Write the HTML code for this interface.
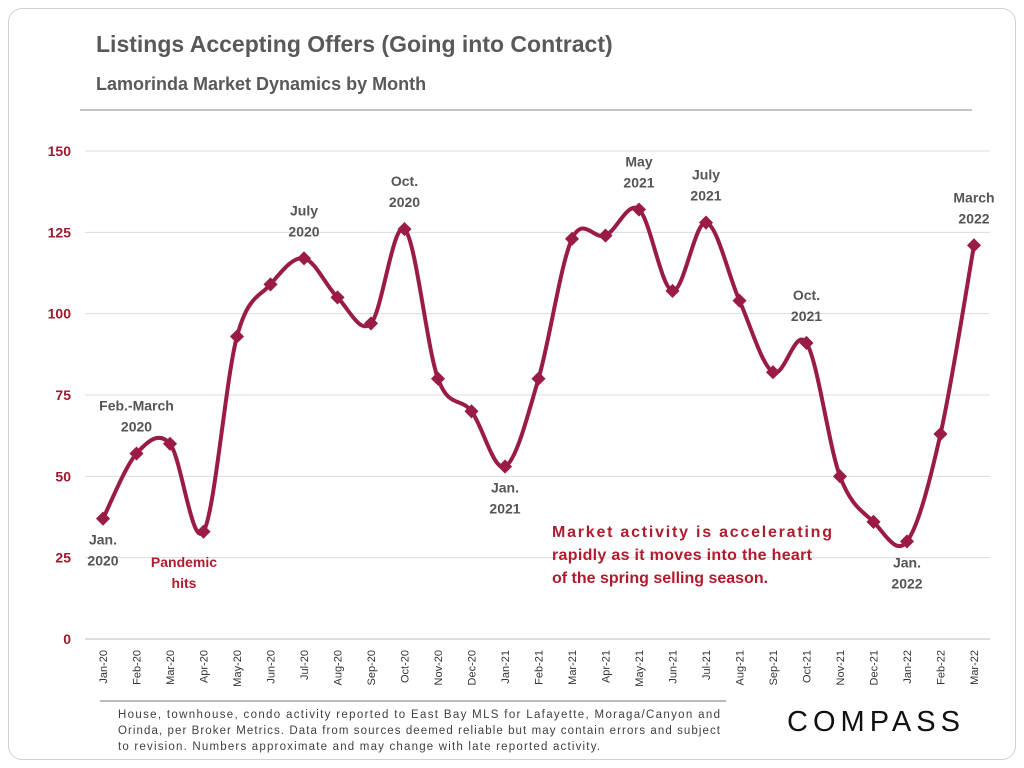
<!DOCTYPE html>
<html><head><meta charset="utf-8">
<style>
html,body{margin:0;padding:0;background:#fff;}
body{width:1024px;height:768px;overflow:hidden;font-family:"Liberation Sans",sans-serif;}
#card{position:absolute;left:8px;top:8px;width:1006px;height:750px;border:1px solid #d0d0d0;border-radius:14px;}
</style></head>
<body>
<div id="card"></div>
<svg id="chart" width="1024" height="768" style="position:absolute;left:0;top:0">
<text x="96" y="52" font-size="23" font-weight="bold" fill="#595959">Listings Accepting Offers (Going into Contract)</text>
<text x="96" y="90" font-size="18" font-weight="bold" fill="#595959">Lamorinda Market Dynamics by Month</text>
<line x1="80" y1="110" x2="972" y2="110" stroke="#888" stroke-width="1"/>
<g id="grid"></g><g id="yt"></g><g id="xt"></g>
<path id="line" fill="none" stroke="#9b1b47" stroke-width="4"/>
<g id="pts"></g><g id="ann"></g>
<text font-size="16" font-weight="bold" fill="#b01c2e">
<tspan x="552" y="537" textLength="280" lengthAdjust="spacing">Market activity is accelerating</tspan>
<tspan x="552" y="560" textLength="260" lengthAdjust="spacing">rapidly as it moves into the heart</tspan>
<tspan x="552" y="583">of the spring selling season.</tspan></text>
<text font-size="14" font-weight="bold" fill="#b01c2e" text-anchor="middle"><tspan x="184" y="567">Pandemic</tspan><tspan x="184" y="588">hits</tspan></text>
<line x1="100" y1="701" x2="726" y2="701" stroke="#777" stroke-width="1"/>
<text font-size="11.5" fill="#404040">
<tspan x="118" y="718" textLength="602" lengthAdjust="spacing">House, townhouse, condo activity reported to East Bay MLS for Lafayette, Moraga/Canyon and</tspan>
<tspan x="118" y="734" textLength="602" lengthAdjust="spacing">Orinda, per Broker Metrics. Data from sources deemed reliable but may contain errors and subject</tspan>
<tspan x="118" y="750" textLength="482" lengthAdjust="spacing">to revision. Numbers approximate and may change with late reported activity.</tspan></text>
<text x="876" y="731" font-size="29" fill="#111" text-anchor="middle" letter-spacing="5">COMPASS</text>
</svg>
<script>
const months=["Jan-20","Feb-20","Mar-20","Apr-20","May-20","Jun-20","Jul-20","Aug-20","Sep-20","Oct-20","Nov-20","Dec-20","Jan-21","Feb-21","Mar-21","Apr-21","May-21","Jun-21","Jul-21","Aug-21","Sep-21","Oct-21","Nov-21","Dec-21","Jan-22","Feb-22","Mar-22"];
const listings=[37,57,60,33,93,109,117,105,97,126,80,70,53,80,123,124,132,107,128,104,82,91,50,36,30,63,121];
const yTicks=[0,25,50,75,100,125,150];
const annotations=[[0,["Jan.","2020"],"below"],[1,["Feb.-March","2020"],"above"],[6,["July","2020"],"above"],[9,["Oct.","2020"],"above"],[12,["Jan.","2021"],"below"],[16,["May","2021"],"above"],[18,["July","2021"],"above"],[21,["Oct.","2021"],"above"],[24,["Jan.","2022"],"below"],[26,["March","2022"],"above"]];
const NS="http://www.w3.org/2000/svg";
const X=i=>103+i*(974-103)/(months.length-1);
const Y=v=>639-v*(639-151)/150;
function mk(t,a,p){const e=document.createElementNS(NS,t);for(const k in a)e.setAttribute(k,a[k]);p.appendChild(e);return e;}
const grid=document.getElementById('grid'),yt=document.getElementById('yt'),xt=document.getElementById('xt');
yTicks.forEach(v=>{
 const l=mk('line',{x1:85,x2:990,y1:Y(v),y2:Y(v),stroke:v===0?'#bbb':'#dcdcdc','stroke-width':1},grid);
 
 
 const t=mk('text',{x:71,y:Y(v)+5,'text-anchor':'end','font-size':14,'font-weight':'bold',fill:'#9b1b2e'},yt);t.textContent=v;
 
 
});
months.forEach((m,i)=>{
 const t=mk('text',{transform:`translate(${X(i)+4},650) rotate(-90)`,'text-anchor':'end','font-size':11,fill:'#333'},xt);t.textContent=m;
 
 
});
const P=listings.map((v,i)=>[X(i),Y(v)]);
let d=`M${P[0][0]},${P[0][1]}`;
for(let i=0;i<P.length-1;i++){const p0=P[Math.max(0,i-1)],p1=P[i],p2=P[i+1],p3=P[Math.min(P.length-1,i+2)];
 d+=` C${p1[0]+(p2[0]-p0[0])/6},${p1[1]+(p2[1]-p0[1])/6} ${p2[0]-(p3[0]-p1[0])/6},${p2[1]-(p3[1]-p1[1])/6} ${p2[0]},${p2[1]}`;}
document.getElementById('line').setAttribute('d',d);
const pts=document.getElementById('pts');
P.forEach(([x,y])=>{const r=mk('rect',{x:x-5,y:y-5,width:10,height:10,fill:'#9b1b47',transform:`rotate(45 ${x} ${y})`},pts);
 
 });
const ann=document.getElementById('ann');
annotations.forEach(([i,lines,pos])=>{
 const x=X(i),y=Y(listings[i]);
 const base=pos==='above'?y-22-(lines.length-1)*21:y+26;
 const t=mk('text',{'text-anchor':'middle','font-size':14,'font-weight':'bold',fill:'#555'},ann);
 
 
 lines.forEach((s,k)=>{const ts=mk('tspan',{x:x,y:base+k*21},t);ts.textContent=s;});
});
</script>
</body></html>
